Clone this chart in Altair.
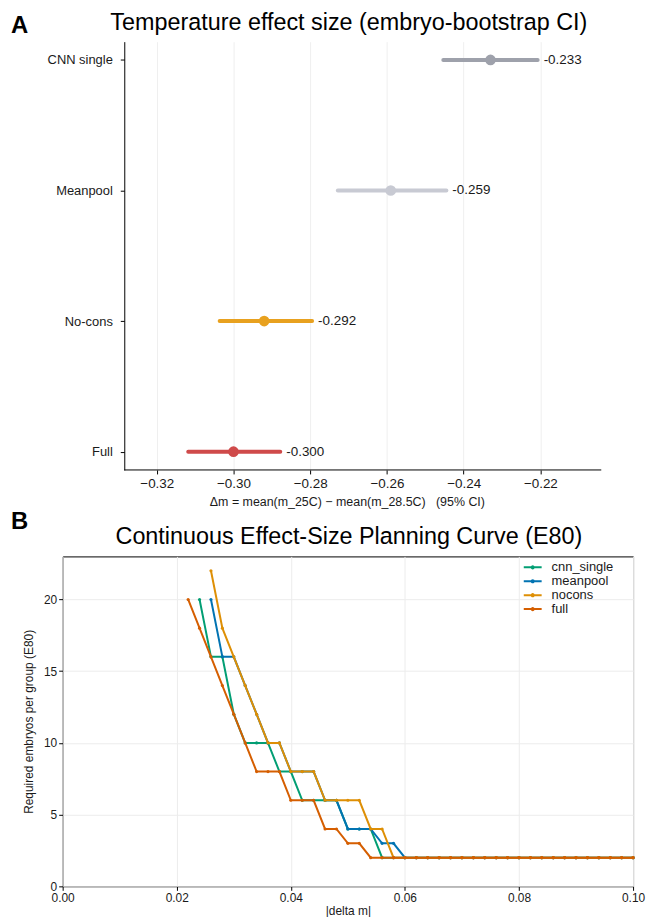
import altair as alt
import pandas as pd

# ---------------- Panel A data ----------------
MODELS = ["CNN single", "Meanpool", "No-cons", "Full"]
EFFECT = [-0.233, -0.259, -0.292, -0.300]
CI_LO = [-0.2453, -0.2728, -0.3036, -0.3118]
CI_HI = [-0.2207, -0.2445, -0.2795, -0.2878]
LABELS = ["-0.233", "-0.259", "-0.292", "-0.300"]
COLORS_A = ["#9ea1ab", "#c8cad3", "#e8a11f", "#cf4a4a"]
XTICKS_A = [-0.32, -0.30, -0.28, -0.26, -0.24, -0.22]

# ---------------- Panel B data ----------------
DELTA = [0.022, 0.024, 0.026, 0.028, 0.030, 0.032, 0.034, 0.036, 0.038, 0.040,
         0.042, 0.044, 0.046, 0.048, 0.050, 0.052, 0.054, 0.056, 0.058, 0.060,
         0.062, 0.064, 0.066, 0.068, 0.070, 0.072, 0.074, 0.076, 0.078, 0.080,
         0.082, 0.084, 0.086, 0.088, 0.090, 0.092, 0.094, 0.096, 0.098, 0.100]
CNN_SINGLE = [None, 20, 16, 16, 12, 10, 10, 10, 8, 8,
              6, 6, 6, 6, 4, 4, 4, 2, 2, 2,
              2, 2, 2, 2, 2, 2, 2, 2, 2, 2,
              2, 2, 2, 2, 2, 2, 2, 2, 2, 2]
MEANPOOL = [None, None, 20, 16, 16, 14, 12, 10, 10, 8,
            8, 8, 6, 6, 4, 4, 4, 3, 3, 2,
            2, 2, 2, 2, 2, 2, 2, 2, 2, 2,
            2, 2, 2, 2, 2, 2, 2, 2, 2, 2]
NOCONS = [None, None, 22, 18, 16, 14, 12, 10, 10, 8,
          8, 8, 6, 6, 6, 6, 4, 4, 2, 2,
          2, 2, 2, 2, 2, 2, 2, 2, 2, 2,
          2, 2, 2, 2, 2, 2, 2, 2, 2, 2]
FULL = [20, 18, 16, 14, 12, 10, 8, 8, 8, 6,
        6, 6, 4, 4, 3, 3, 2, 2, 2, 2,
        2, 2, 2, 2, 2, 2, 2, 2, 2, 2,
        2, 2, 2, 2, 2, 2, 2, 2, 2, 2]
SERIES = ["cnn_single", "meanpool", "nocons", "full"]
COLORS_B = ["#029E73", "#0173B2", "#DE8F05", "#D55E00"]
XTICKS_B = [0.00, 0.02, 0.04, 0.06, 0.08, 0.10]
YTICKS_B = [0, 5, 10, 15, 20]

TITLE_A = "Temperature effect size (embryo-bootstrap CI)"
TITLE_B = "Continuous Effect-Size Planning Curve (E80)"

FONT = "Liberation Sans"
TXT = "#1a1a1a"

# layout (pixels)
W_A, H_A = 542, 431      # panel A drawing area (shares left edge with panel B)
SPINE_A = 62             # panel A left spine sits this far inside its area
W_B, H_B = 574, 332


def text_layer(s, size, weight, x, y, align):
    return alt.Chart(pd.DataFrame({"t": [s]})).mark_text(
        align=align, baseline="middle", fontSize=size, fontWeight=weight, color="black"
    ).encode(x=alt.value(x), y=alt.value(y), text="t:N")


# ---------------- Panel A ----------------
dfA = pd.DataFrame({"model": MODELS, "eff": EFFECT, "lo": CI_LO, "hi": CI_HI, "lab": LABELS})
x_title_A = "Δm = mean(m_25C) − mean(m_28.5C)\u00a0\u00a0 (95% CI)"
x_scale_A = alt.Scale(domain=[-0.34453, -0.20412], nice=False, zero=False)
x_axis_A = alt.Axis(values=XTICKS_A, format=".2f", grid=True, gridColor="#efefef",
                    domain=False, tickColor="black", tickSize=4, labelFlush=False,
                    labelFontSize=13.5, titleFontSize=12.5, labelColor=TXT, titleColor=TXT,
                    titleFontWeight="normal", labelPadding=3, titlePadding=5,
                    titleX=286, titleAlign="center")
y_A = alt.Y("model:N", sort=MODELS, scale=alt.Scale(type="point", padding=0.14),
            axis=alt.Axis(title=None, grid=False, domainColor="black", tickColor="black",
                          tickSize=4, labelFontSize=13, labelColor=TXT, labelPadding=8,
                          offset=-SPINE_A))
color_A = alt.Color("model:N", scale=alt.Scale(domain=MODELS, range=COLORS_A), legend=None)

ci = alt.Chart(dfA).mark_rule(strokeWidth=4, strokeCap="round").encode(
    x=alt.X("lo:Q", scale=x_scale_A, axis=x_axis_A, title=x_title_A),
    x2="hi:Q", y=y_A, color=color_A)
dots = alt.Chart(dfA).mark_circle(size=115, opacity=1).encode(
    x=alt.X("eff:Q", scale=x_scale_A, axis=x_axis_A, title=x_title_A), y=y_A, color=color_A)
vals = alt.Chart(dfA).mark_text(align="left", baseline="middle", dx=6, fontSize=13.5, color=TXT).encode(
    x=alt.X("hi:Q", scale=x_scale_A, axis=x_axis_A, title=x_title_A), y=y_A, text="lab:N")
spine_A = alt.Chart(pd.DataFrame({"t": [0]})).mark_rule(color="black", strokeWidth=1).encode(
    x=alt.value(SPINE_A), x2=alt.value(W_A), y=alt.value(H_A))

panelA = alt.layer(
    ci, dots, vals, spine_A,
    text_layer("A", 24, "bold", -52, -16, "left"),
    text_layer(TITLE_A, 23.5, "normal", 288, -19, "center"),
).properties(width=W_A, height=H_A, view=alt.ViewBackground(stroke=None))

# ---------------- Panel B ----------------
rows = []
for name, vals_s in zip(SERIES, [CNN_SINGLE, MEANPOOL, NOCONS, FULL]):
    for d, v in zip(DELTA, vals_s):
        if v is not None:
            rows.append({"series": name, "delta": d, "n": v})
dfB = pd.DataFrame(rows)

x_B = alt.X("delta:Q", scale=alt.Scale(domain=[0, 0.1], nice=False, zero=False),
            axis=alt.Axis(values=XTICKS_B, format=".2f", grid=True, gridColor="#ececec",
                          domain=False, tickColor="black", tickSize=4, labelFontSize=12,
                          labelFlush=False, titleFontSize=12, labelColor=TXT, titleColor=TXT,
                          titleFontWeight="normal", labelPadding=2, titlePadding=2),
            title="|delta m|")
y_B = alt.Y("n:Q", scale=alt.Scale(domain=[0, 23], nice=False, zero=True),
            axis=alt.Axis(values=YTICKS_B, grid=True, gridColor="#ececec", domain=False,
                          tickColor="black", tickSize=4, labelFontSize=12, titleFontSize=12,
                          labelFlush=False, labelColor=TXT, titleColor=TXT,
                          titleFontWeight="normal", labelPadding=2, titlePadding=8),
            title="Required embryos per group (E80)")
legend_B = alt.Legend(title=None, orient="none", legendX=466, legendY=4, padding=0,
                      symbolType="M-1.5,0L1.5,0M-0.18,0A0.18,0.18,0,1,1,0.18,0A0.18,0.18,0,1,1,-0.18,0",
                      symbolSize=144, symbolStrokeWidth=2, labelFontSize=13, labelColor=TXT,
                      labelOffset=12, rowPadding=-0.5, symbolFillColor="transparent")
color_B = alt.Color("series:N", scale=alt.Scale(domain=SERIES, range=COLORS_B), legend=legend_B)

layersB = []
for name in SERIES:
    sub = dfB[dfB["series"] == name]
    layersB.append(alt.Chart(sub).mark_line(strokeWidth=2).encode(x=x_B, y=y_B, color=color_B))
    layersB.append(alt.Chart(sub).mark_circle(size=10, opacity=1).encode(x=x_B, y=y_B, color=color_B))
layersB.append(text_layer("B", 24, "bold", -52, -35, "left"))
layersB.append(text_layer(TITLE_B, 23.5, "normal", 288, -20, "center"))

panelB = alt.layer(*layersB).properties(
    width=W_B, height=H_B, view=alt.ViewBackground(stroke="black", strokeWidth=1))

chart = alt.vconcat(panelA, panelB, spacing=1).resolve_scale(
    color="independent"
).properties(
    padding={"left": 2, "top": 0, "right": 0, "bottom": 0}
).configure(font=FONT)

chart.save("out.html", embed_options={"renderer": "svg", "actions": False})
